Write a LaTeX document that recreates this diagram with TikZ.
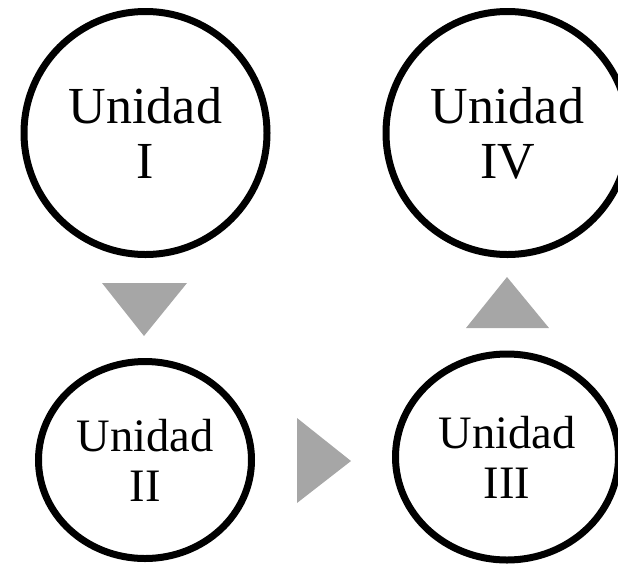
\documentclass[tikz,border=0pt]{standalone}
\usepackage{fontspec}
\setmainfont{Liberation Serif}
\usetikzlibrary{shapes.geometric}
\definecolor{gris}{HTML}{A6A6A6}
\tikzset{
  unidad/.style={draw, line width=7pt, fill=white, align=center, inner sep=0pt},
  grande/.style={unidad, circle, minimum size=243pt, font=\fontsize{52}{55}\selectfont},
  chica/.style={unidad, ellipse, font=\fontsize{46.5}{50}\selectfont},
  flecha/.style={fill=gris, draw=none}
}
\begin{document}
\begin{tikzpicture}[x=1pt, y=-1pt]
    \useasboundingbox (0, 0) rectangle (618, 566);
    \clip (0, 0) rectangle (618, 566);
    \node (u1) [grande] at (145.5, 133) {Unidad\\I};
    \node (u4) [grande] at (507.5, 133) {Unidad\\IV};
    \node (u2) [chica, minimum width=213pt, minimum height=197pt] at (145, 460) {Unidad\\II};
    \node (u3) [chica, minimum width=223pt, minimum height=206pt] at (507, 457) {Unidad\\III};
    \fill[flecha] (102, 283) -- (187, 283) -- (144, 336) -- cycle
                  (297, 418) -- (297, 503) -- (351, 461) -- cycle
                  (466, 328) -- (549, 328) -- (507, 277) -- cycle;
\end{tikzpicture}
\end{document}
